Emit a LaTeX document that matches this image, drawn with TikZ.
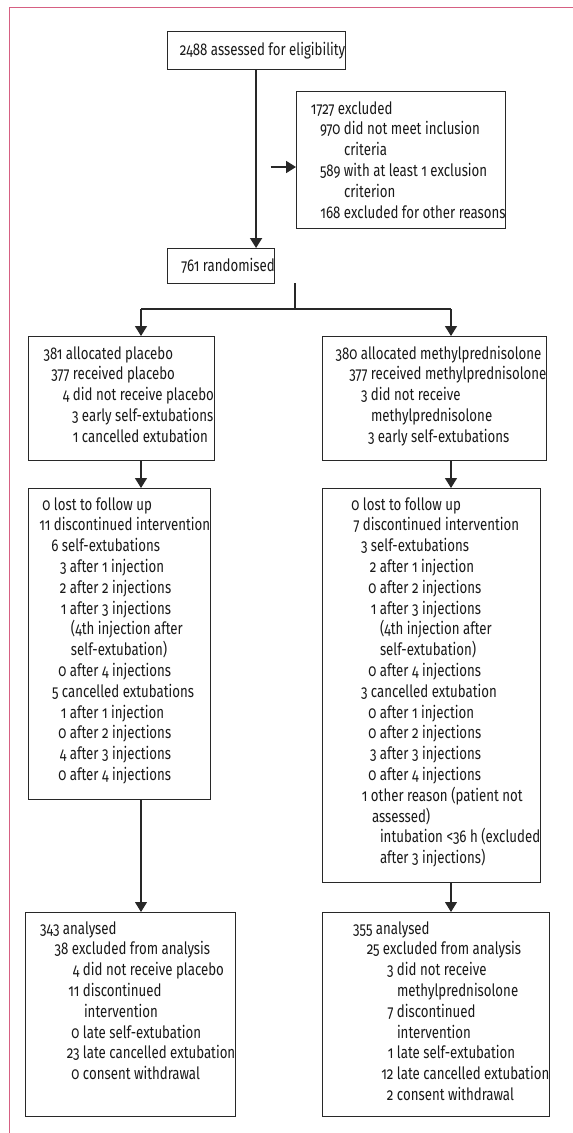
\documentclass[tikz,border=0pt]{standalone}
\usepackage{fontspec}
\setmainfont{Fira Sans}[Numbers=OldStyle,FakeStretch=0.78]
\usetikzlibrary{arrows.meta}
\definecolor{frame}{RGB}{214,96,130}
\definecolor{ink}{RGB}{40,40,40}
\definecolor{txt}{RGB}{25,25,25}
\newcommand\Lr[3]{\hbox{\hskip#1pt\llap{#2\hskip3.5pt}#3\rule{0pt}{15pt}}}
\newcommand\boxtext[4]{\vbox to #2pt{\hsize=#1pt\baselineskip=20.8pt\lineskiplimit=-30pt\lineskip=0pt\vskip\dimexpr#3pt-15pt\relax#4\vfil}}
\begin{document}
\begin{tikzpicture}[x=1pt,y=-1pt,
  box/.style={draw=ink,line width=0.9pt,inner sep=0pt,outer sep=0pt,anchor=north west,
    font=\fontsize{17}{20.8}\selectfont,text=txt},
  arr/.style={-{Triangle[width=12pt,length=10pt]}},
  topline/.style={draw=ink,line width=1.8pt},
  midline/.style={draw=ink,line width=1.4pt},
  lowline/.style={draw=ink,line width=1.1pt}]
\useasboundingbox (0,0) rectangle (573,1133);
\draw[frame,line width=1.8pt] (573,7.5) -- (9.5,7.5) -- (9.5,1133);

\node[box] (A) at (167,31) {\boxtext{207}{38}{24}{\Lr{44}{2488}{assessed for eligibility}}};
\node[box] (B) at (296,91) {\boxtext{220}{137}{23}{%
\Lr{42}{1727}{excluded}
\Lr{48}{970}{did not meet inclusion}
\Lr{48}{}{criteria}
\Lr{48}{589}{with at least 1 exclusion}
\Lr{48}{}{criterion}
\Lr{48}{168}{excluded for other reasons}}};
\node[box] (C) at (167,248) {\boxtext{208}{35}{23}{\Lr{36}{761}{randomised}}};

\node[box] (D) at (28,336) {\boxtext{228}{124}{23}{%
\Lr{38}{381}{allocated placebo}
\Lr{45}{377}{received placebo}
\Lr{45}{4}{did not receive placebo}
\Lr{54}{3}{early self-extubations}
\Lr{54}{1}{cancelled extubation}}};
\node[box] (E) at (322,336) {\boxtext{243}{124}{23}{%
\Lr{39}{380}{allocated methylprednisolone}
\Lr{49}{377}{received methylprednisolone}
\Lr{49}{3}{did not receive}
\Lr{49}{}{methylprednisolone}
\Lr{56}{3}{early self-extubations}}};

\node[box] (F) at (28,488) {\boxtext{228}{311}{22}{%
\Lr{26}{0}{lost to follow up}
\Lr{26}{11}{discontinued intervention}
\Lr{34}{6}{self-extubations}
\Lr{42}{3}{after 1 injection}
\Lr{42}{2}{after 2 injections}
\Lr{42}{1}{after 3 injections}
\Lr{43}{}{(4th injection after}
\Lr{43}{}{self-extubation)}
\Lr{42}{0}{after 4 injections}
\Lr{34}{5}{cancelled extubations}
\Lr{42}{1}{after 1 injection}
\Lr{42}{0}{after 2 injections}
\Lr{42}{4}{after 3 injections}
\Lr{42}{0}{after 4 injections}}};
\node[box] (G) at (322,488) {\boxtext{243}{394}{22}{%
\Lr{41}{0}{lost to follow up}
\Lr{41}{7}{discontinued intervention}
\Lr{49}{3}{self-extubations}
\Lr{58}{2}{after 1 injection}
\Lr{58}{0}{after 2 injections}
\Lr{58}{1}{after 3 injections}
\Lr{58}{}{(4th injection after}
\Lr{58}{}{self-extubation)}
\Lr{58}{0}{after 4 injections}
\Lr{49}{3}{cancelled extubation}
\Lr{58}{0}{after 1 injection}
\Lr{58}{0}{after 2 injections}
\Lr{58}{3}{after 3 injections}
\Lr{58}{0}{after 4 injections}
\Lr{49}{1}{other reason (patient not}
\Lr{50}{}{assessed)}
\Lr{58}{}{intubation <36 h (excluded}
\Lr{58}{}{after 3 injections)}}};

\node[box] (H) at (25,912) {\boxtext{228}{204}{22}{%
\Lr{38}{343}{analysed}
\Lr{47}{38}{excluded from analysis}
\Lr{58}{4}{did not receive placebo}
\Lr{58}{11}{discontinued}
\Lr{59}{}{intervention}
\Lr{58}{0}{late self-extubation}
\Lr{58}{23}{late cancelled extubation}
\Lr{58}{0}{consent withdrawal}}};
\node[box] (I) at (322,912) {\boxtext{243}{204}{22}{%
\Lr{54}{355}{analysed}
\Lr{61}{25}{excluded from analysis}
\Lr{75}{3}{did not receive}
\Lr{75}{}{methylprednisolone}
\Lr{75}{7}{discontinued}
\Lr{75}{}{intervention}
\Lr{75}{1}{late self-extubation}
\Lr{75}{12}{late cancelled extubation}
\Lr{75}{2}{consent withdrawal}}};

\draw[topline,arr] (A.south) -- (A.south |- C.north);
\coordinate (bx) at (270.5,167);
\draw[topline,arr] (bx) -- (bx -| B.west);
\coordinate (sp) at (295,309);
\coordinate (spL) at (141,309);
\coordinate (spR) at (451,309);
\draw[midline] (C.south -| sp) -- (sp);
\draw[midline] (spL) -- (spR);
\draw[midline,arr] (spL) -- (spL |- D.north);
\draw[midline,arr] (spR) -- (spR |- E.north);
\draw[midline,arr] (D.south -| spL) -- (spL |- F.north);
\draw[midline,arr] (E.south -| spR) -- (spR |- G.north);
\draw[lowline,arr] (F.south -| spL) -- (spL |- H.north);
\draw[lowline,arr] (G.south -| spR) -- (spR |- I.north);
\end{tikzpicture}
\end{document}
